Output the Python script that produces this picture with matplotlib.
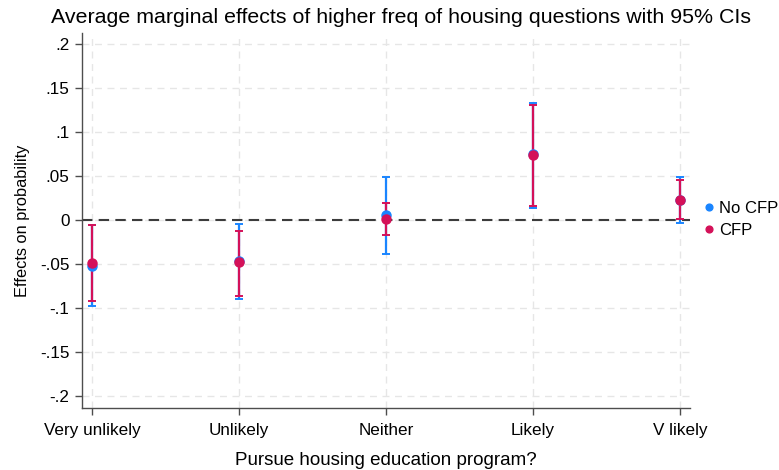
"""
Average marginal effects with 95% confidence intervals, two groups
"""
import numpy as np
import matplotlib
matplotlib.use('Agg')
from matplotlib import pyplot as plt

categories = ['Very unlikely', 'Unlikely', 'Neither', 'Likely', 'V likely']

# No CFP group
no_cfp_est = [-0.052, -0.047, 0.006, 0.075, 0.023]
no_cfp_lo = [-0.098, -0.090, -0.039, 0.014, -0.003]
no_cfp_hi = [-0.006, -0.005, 0.049, 0.133, 0.049]

# CFP group
cfp_est = [-0.049, -0.048, 0.001, 0.074, 0.023]
cfp_lo = [-0.092, -0.086, -0.017, 0.016, 0.001]
cfp_hi = [-0.006, -0.012, 0.019, 0.131, 0.045]

yticks = [-0.2, -0.15, -0.1, -0.05, 0, 0.05, 0.1, 0.15, 0.2]
ytick_labels = ['-.2', '-.15', '-.1', '-.05', '0', '.05', '.1', '.15', '.2']

blue = '#1a85ff'
red = '#d41159'

plt.rcParams['font.family'] = ['Liberation Sans', 'DejaVu Sans']


def draw_group(ax, x, est, lo, hi, color, label):
    est = np.asarray(est)
    yerr = [est - np.asarray(lo), np.asarray(hi) - est]
    ax.errorbar(x, est, yerr=yerr, fmt='none', ecolor=color,
                elinewidth=1.6, capsize=3, capthick=1.4, zorder=3)
    ax.plot(x, est, 'o', color=color, markersize=6.5, zorder=4,
            linestyle='none', label=label)


def main():
    fig = plt.figure(figsize=(7.79, 4.70), dpi=100)
    ax = fig.add_axes([0.1053, 0.132, 0.7804, 0.798])

    x = np.arange(1, len(categories) + 1)
    ax.axhline(0, color='#3c3c3c', linestyle=(0, (5, 3)), linewidth=1.5,
               zorder=2)
    draw_group(ax, x, no_cfp_est, no_cfp_lo, no_cfp_hi, blue, 'No CFP')
    draw_group(ax, x, cfp_est, cfp_lo, cfp_hi, red, 'CFP')

    ax.set_xlim(0.932, 5.068)
    ax.set_ylim(-0.2135, 0.2125)
    ax.set_xticks(x)
    ax.set_xticklabels(categories, fontsize=12.3)
    ax.set_yticks(yticks)
    ax.set_yticklabels(ytick_labels, fontsize=12.3)

    ax.grid(True, color='#e6e6e6', linestyle=(0, (5, 4)), linewidth=1.0,
            zorder=0)
    ax.set_axisbelow(True)
    for side in ('top', 'right'):
        ax.spines[side].set_visible(False)
    for side in ('left', 'bottom'):
        ax.spines[side].set_color('#4d4d4d')
        ax.spines[side].set_linewidth(1.0)
    ax.tick_params(direction='out', length=5, width=1.0, color='#4d4d4d',
                   labelcolor='black', pad=4)
    ax.tick_params(axis='x', pad=6)

    ax.set_xlabel('Pursue housing education program?', fontsize=13.5,
                  labelpad=10)
    ax.set_ylabel('Effects on probability', fontsize=11.8, labelpad=7)
    fig.text(0.515, 0.962, 'Average marginal effects of higher freq of '
             'housing questions with 95% CIs', ha='center', va='center',
             fontsize=15.4)

    fig.legend(loc='center left', bbox_to_anchor=(0.9037, 0.533),
               bbox_transform=fig.transFigure, frameon=False, fontsize=12,
               handlelength=0.6, handletextpad=0.3, markerscale=0.75,
               labelspacing=0.45, borderaxespad=0, borderpad=0)

    fig.savefig('out.png', dpi=100, facecolor='white')


if __name__ == '__main__':
    main()
